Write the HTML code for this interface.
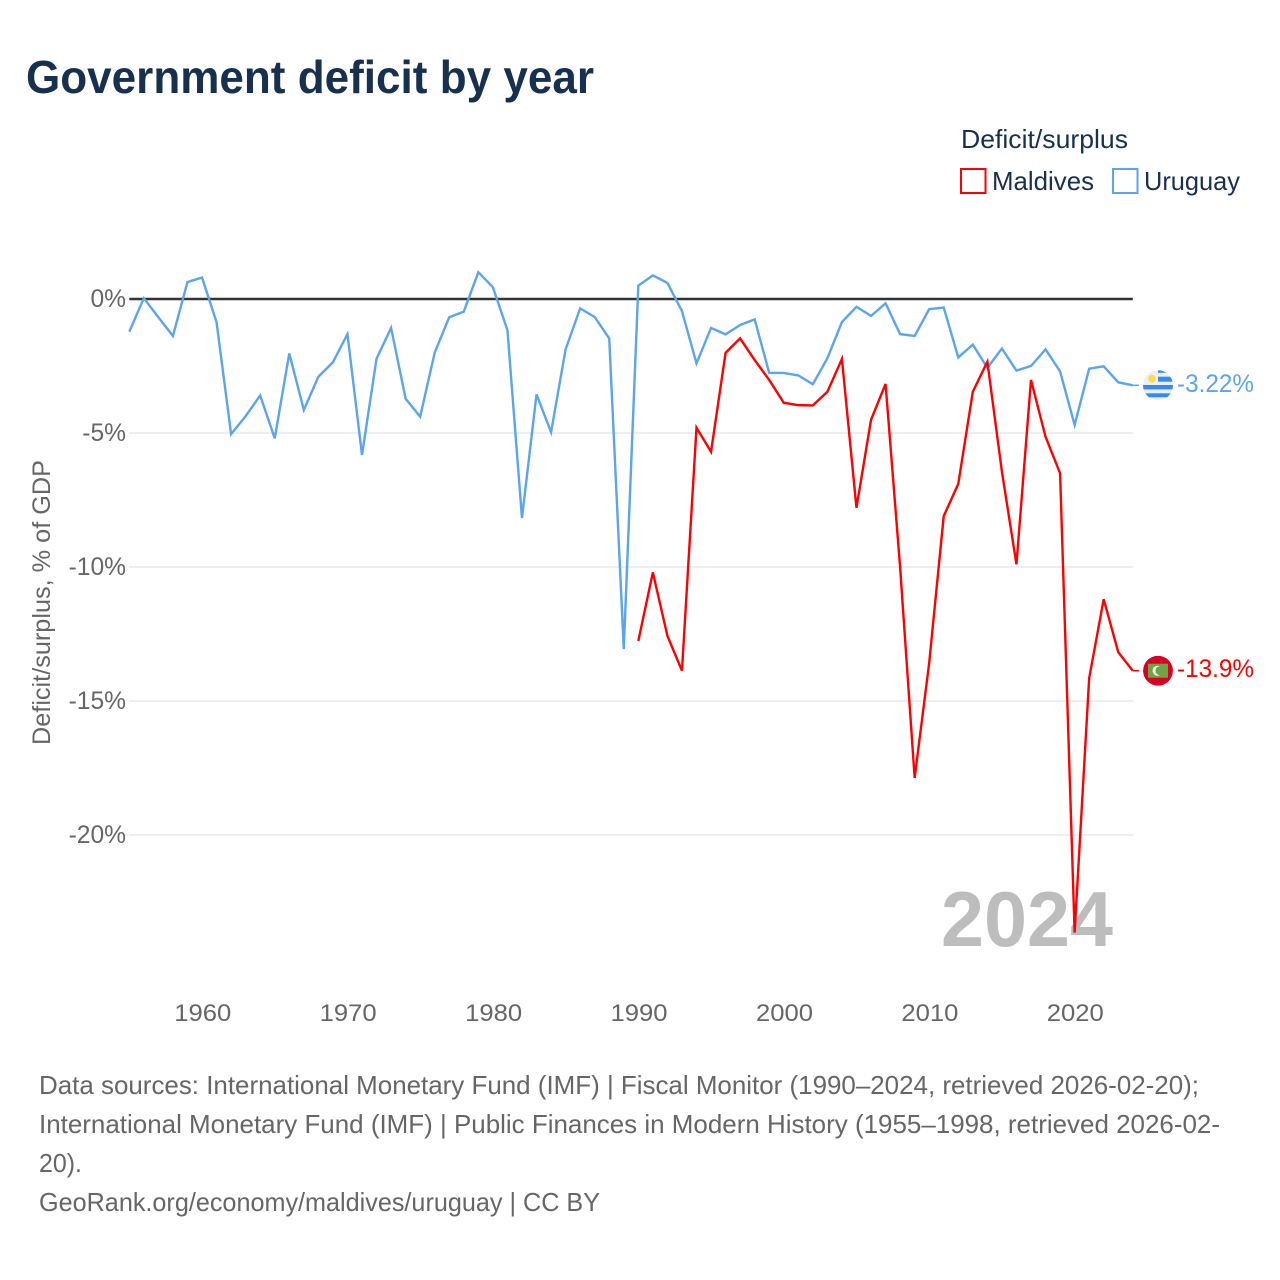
<!DOCTYPE html>
<html lang="en">
<head>
<meta charset="utf-8">
<title>Government deficit by year</title>
<style>
  html, body { margin: 0; padding: 0; background: #fff; }
  svg { display: block; font-family: "Liberation Sans", sans-serif; }
</style>
</head>
<body>
<svg id="chart" xmlns="http://www.w3.org/2000/svg" width="1280" height="1280" viewBox="0 0 1280 1280">
  <rect x="0" y="0" width="1280" height="1280" fill="#ffffff"/>
  <text x="26" y="93" font-size="46" font-weight="700" fill="#18304f" textLength="568" lengthAdjust="spacingAndGlyphs">Government deficit by year</text>

  <g>
    <text x="961" y="148" font-size="26" fill="#18304f" textLength="167" lengthAdjust="spacingAndGlyphs">Deficit/surplus</text>
    <g>
      <rect x="961" y="169" width="24.5" height="24" fill="#ffffff" stroke="#ff0000" stroke-width="2"/>
      <text x="992" y="190" font-size="26" fill="#18304f" textLength="102" lengthAdjust="spacingAndGlyphs">Maldives</text>
    </g>
    <g>
      <rect x="1113" y="169" width="24.5" height="24" fill="#ffffff" stroke="#5ba4ee" stroke-width="2"/>
      <text x="1144" y="190" font-size="26" fill="#18304f" textLength="96" lengthAdjust="spacingAndGlyphs">Uruguay</text>
    </g>
  </g>

  <g id="grid"></g>
  <g id="y-ticks"></g>
  <g id="x-ticks"></g>
  <text transform="translate(50,745) rotate(-90)" font-size="25" fill="#666666" textLength="285" lengthAdjust="spacingAndGlyphs">Deficit/surplus, % of GDP</text>
  <text x="941" y="946" font-size="78" font-weight="700" fill="#bdbdbd" textLength="172" lengthAdjust="spacingAndGlyphs">2024</text>

  <g id="series"></g>
  <g id="ends"></g>

  <defs>
    <clipPath id="flag-clip"><circle cx="0" cy="0" r="15"/></clipPath>
  </defs>

  <g font-size="26" fill="#666666">
    <text x="39" y="1094" textLength="1160" lengthAdjust="spacingAndGlyphs">Data sources: International Monetary Fund (IMF) | Fiscal Monitor (1990–2024, retrieved 2026-02-20);</text>
    <text x="39" y="1133" textLength="1181" lengthAdjust="spacingAndGlyphs">International Monetary Fund (IMF) | Public Finances in Modern History (1955–1998, retrieved 2026-02-</text>
    <text x="39" y="1172" textLength="43" lengthAdjust="spacingAndGlyphs">20).</text>
    <a><text x="39" y="1211" textLength="561" lengthAdjust="spacingAndGlyphs">GeoRank.org/economy/maldives/uruguay | CC BY</text></a>
  </g>
</svg>
<script>
const xTickYears = [1960, 1970, 1980, 1990, 2000, 2010, 2020];
const yTickValues = [0, -5, -10, -15, -20];
const yTickLabels = ["0%", "-5%", "-10%", "-15%", "-20%"];
const uruguayStartYear = 1955;
const uruguayValues = [
  -1.22, 0.03, -0.68, -1.38, 0.63, 0.8, -0.87, -5.04, -4.37, -3.6,
  -5.2, -2.03, -4.14, -2.9, -2.36, -1.31, -5.82, -2.23, -1.08, -3.72,
  -4.39, -2.0, -0.68, -0.47, 1.0, 0.44, -1.16, -8.17, -3.56, -4.97,
  -1.88, -0.35, -0.67, -1.47, -13.06, 0.5, 0.88, 0.6, -0.45, -2.4,
  -1.08, -1.32, -0.97, -0.76, -2.76, -2.76, -2.85, -3.18, -2.21, -0.86,
  -0.29, -0.63, -0.16, -1.31, -1.38, -0.38, -0.32, -2.18, -1.7, -2.57,
  -1.85, -2.67, -2.5, -1.88, -2.7, -4.7, -2.6, -2.51, -3.11, -3.22
];
const maldivesStartYear = 1990;
const maldivesValues = [
  -12.76, -10.2, -12.57, -13.87, -4.8, -5.7, -2.01, -1.47, -2.28, -3.02,
  -3.87, -3.96, -3.97, -3.46, -2.24, -7.79, -4.51, -3.17, -10.0, -17.87,
  -13.58, -8.1, -6.9, -3.46, -2.34, -6.44, -9.9, -3.02, -5.14, -6.5,
  -23.64, -14.15, -11.2, -13.18, -13.87
];
const uruguayEndLabel = "-3.22%";
const maldivesEndLabel = "-13.9%";

const NS = "http://www.w3.org/2000/svg";
const plotLeft = 129.3;
const plotRight = 1132.8;
const xScale = function (year) {
  return plotLeft + (year - 1955) * (plotRight - plotLeft) / (2024 - 1955);
};
const yScale = function (value) {
  return 299 - value * 26.8;
};
const make = function (tag, parent) {
  const el = document.createElementNS(NS, tag);
  parent.appendChild(el);
  return el;
};

const grid = document.getElementById("grid");
const yTicks = document.getElementById("y-ticks");
yTickValues.forEach(function (value, i) {
  const line = make("line", grid);
  
  
  line.setAttribute("x1", plotLeft);
  line.setAttribute("x2", plotRight);
  line.setAttribute("y1", yScale(value));
  line.setAttribute("y2", yScale(value));
  line.setAttribute("stroke", "#e8e8e8");
  line.setAttribute("stroke-width", "1.5");
  const label = make("text", yTicks);
  
  
  label.setAttribute("x", 126);
  label.setAttribute("y", yScale(value) + 8);
  label.setAttribute("text-anchor", "end");
  label.setAttribute("font-size", "24.6");
  label.setAttribute("fill", "#666666");
  label.textContent = yTickLabels[i];
});

const xTicks = document.getElementById("x-ticks");
xTickYears.forEach(function (year) {
  const label = make("text", xTicks);
  
  
  label.setAttribute("x", xScale(year) + 0.7);
  label.setAttribute("y", 1021);
  label.setAttribute("text-anchor", "middle");
  label.setAttribute("font-size", "24");
  label.setAttribute("fill", "#666666");
  label.setAttribute("textLength", "57");
  label.setAttribute("lengthAdjust", "spacingAndGlyphs");
  label.textContent = year;
});

const seriesGroup = document.getElementById("series");
const pointsFor = function (startYear, values) {
  return values.map(function (value, i) {
    return xScale(startYear + i).toFixed(2) + "," + yScale(value).toFixed(2);
  }).join(" ");
};

const zeroLine = make("line", seriesGroup);


zeroLine.setAttribute("x1", plotLeft);
zeroLine.setAttribute("x2", plotRight);
zeroLine.setAttribute("y1", yScale(0));
zeroLine.setAttribute("y2", yScale(0));
zeroLine.setAttribute("stroke", "#333333");
zeroLine.setAttribute("stroke-width", "2.4");

const uruguayLine = make("polyline", seriesGroup);


uruguayLine.setAttribute("points", pointsFor(uruguayStartYear, uruguayValues));
uruguayLine.setAttribute("fill", "none");
uruguayLine.setAttribute("stroke", "#5ba4ee");
uruguayLine.setAttribute("stroke-width", "2.4");

const maldivesLine = make("polyline", seriesGroup);


maldivesLine.setAttribute("points", pointsFor(maldivesStartYear, maldivesValues));
maldivesLine.setAttribute("fill", "none");
maldivesLine.setAttribute("stroke", "#ff0000");
maldivesLine.setAttribute("stroke-width", "2.4");

const ends = document.getElementById("ends");

const addShape = function (parent, tag, attrs) {
  const el = make(tag, parent);
  Object.keys(attrs).forEach(function (k) { el.setAttribute(k, attrs[k]); });
  return el;
};

/* Uruguay end marker */
const uruguayEndY = yScale(uruguayValues[uruguayValues.length - 1]);
const uruguayConnector = make("line", ends);


uruguayConnector.setAttribute("x1", plotRight);
uruguayConnector.setAttribute("x2", 1139);
uruguayConnector.setAttribute("y1", uruguayEndY);
uruguayConnector.setAttribute("y2", uruguayEndY);
uruguayConnector.setAttribute("stroke", "#5ba4ee");
uruguayConnector.setAttribute("stroke-width", "1.5");

const uruguayFlag = make("g", ends);


uruguayFlag.setAttribute("transform", "translate(1158," + uruguayEndY + ")");
uruguayFlag.setAttribute("clip-path", "url(#flag-clip)");
addShape(uruguayFlag, "circle", { cx: 0, cy: 0, r: 15, fill: "#eeeeee" });
addShape(uruguayFlag, "rect", { x: 0, y: -15.3, width: 15, height: 2.8, fill: "#338af3" });
addShape(uruguayFlag, "rect", { x: 0, y: -8.6, width: 15, height: 5, fill: "#338af3" });
addShape(uruguayFlag, "rect", { x: -15, y: -0.3, width: 30, height: 4.4, fill: "#338af3" });
addShape(uruguayFlag, "rect", { x: -15, y: 8, width: 30, height: 4, fill: "#338af3" });
addShape(uruguayFlag, "circle", { cx: -6, cy: -6.6, r: 3.8, fill: "#ffda44" });

const uruguayText = make("text", ends);


uruguayText.setAttribute("x", 1177);
uruguayText.setAttribute("y", uruguayEndY + 6.5);
uruguayText.setAttribute("font-size", "25");
uruguayText.setAttribute("fill", "#5ba4ee");
uruguayText.setAttribute("textLength", "77");
uruguayText.setAttribute("lengthAdjust", "spacingAndGlyphs");
uruguayText.textContent = uruguayEndLabel;

/* Maldives end marker */
const maldivesEndY = yScale(maldivesValues[maldivesValues.length - 1]);
const maldivesConnector = make("line", ends);


maldivesConnector.setAttribute("x1", plotRight);
maldivesConnector.setAttribute("x2", 1139);
maldivesConnector.setAttribute("y1", maldivesEndY);
maldivesConnector.setAttribute("y2", maldivesEndY);
maldivesConnector.setAttribute("stroke", "#ff0000");
maldivesConnector.setAttribute("stroke-width", "1.5");

const maldivesFlag = make("g", ends);


maldivesFlag.setAttribute("transform", "translate(1158," + maldivesEndY + ")");
maldivesFlag.setAttribute("clip-path", "url(#flag-clip)");
addShape(maldivesFlag, "circle", { cx: 0, cy: 0, r: 15, fill: "#d80027" });
addShape(maldivesFlag, "rect", { x: -10, y: -7, width: 20, height: 14, fill: "#6da544" });
addShape(maldivesFlag, "circle", { cx: -0.5, cy: 0, r: 5, fill: "#eeeeee" });
addShape(maldivesFlag, "circle", { cx: 2, cy: 0, r: 4.5, fill: "#6da544" });

const maldivesText = make("text", ends);


maldivesText.setAttribute("x", 1177);
maldivesText.setAttribute("y", maldivesEndY + 6.5);
maldivesText.setAttribute("font-size", "25");
maldivesText.setAttribute("fill", "#ff0000");
maldivesText.setAttribute("textLength", "77");
maldivesText.setAttribute("lengthAdjust", "spacingAndGlyphs");
maldivesText.textContent = maldivesEndLabel;
</script>
</body>
</html>
